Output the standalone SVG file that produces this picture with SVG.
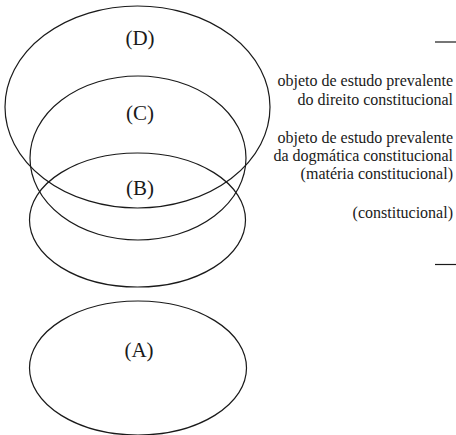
<svg xmlns="http://www.w3.org/2000/svg" width="456" height="435" viewBox="0 0 456 435">
<style>
.e{fill:none;stroke:#1a1a1a;stroke-width:1.2}
.l{font-family:"Liberation Serif","Times New Roman",serif;font-size:21px;fill:#1a1a1a;text-anchor:middle}
.t{font-family:"Liberation Serif","Times New Roman",serif;font-size:16px;fill:#1a1a1a;text-anchor:end}
.r{stroke:#1a1a1a;stroke-width:1.2}
</style>
<rect width="456" height="435" fill="#fff"/>
<g id="D"><ellipse class="e" cx="137.5" cy="107" rx="132.5" ry="101"/><text class="l" x="140" y="45">(D)</text></g>
<g id="C"><ellipse class="e" cx="138" cy="158" rx="108" ry="82"/><text class="l" x="140" y="120">(C)</text></g>
<g id="B"><ellipse class="e" cx="137.5" cy="220" rx="108" ry="67"/><text class="l" x="140" y="195">(B)</text></g>
<g id="A"><ellipse class="e" cx="138" cy="368" rx="108.5" ry="67"/><text class="l" x="139" y="357">(A)</text></g>
<g id="labels">
<text class="t" x="453" y="86">objeto de estudo prevalente</text>
<text class="t" x="453" y="105">do direito constitucional</text>
<text class="t" x="453" y="143">objeto de estudo prevalente</text>
<text class="t" x="453" y="161">da dogmática constitucional</text>
<text class="t" x="453" y="179">(matéria constitucional)</text>
<text class="t" x="453" y="218">(constitucional)</text>
</g>
<g id="connectors">
<line class="r" x1="435" y1="42" x2="456" y2="42"/>
<line class="r" x1="435" y1="264.5" x2="456" y2="264.5"/>
</g>
</svg>
